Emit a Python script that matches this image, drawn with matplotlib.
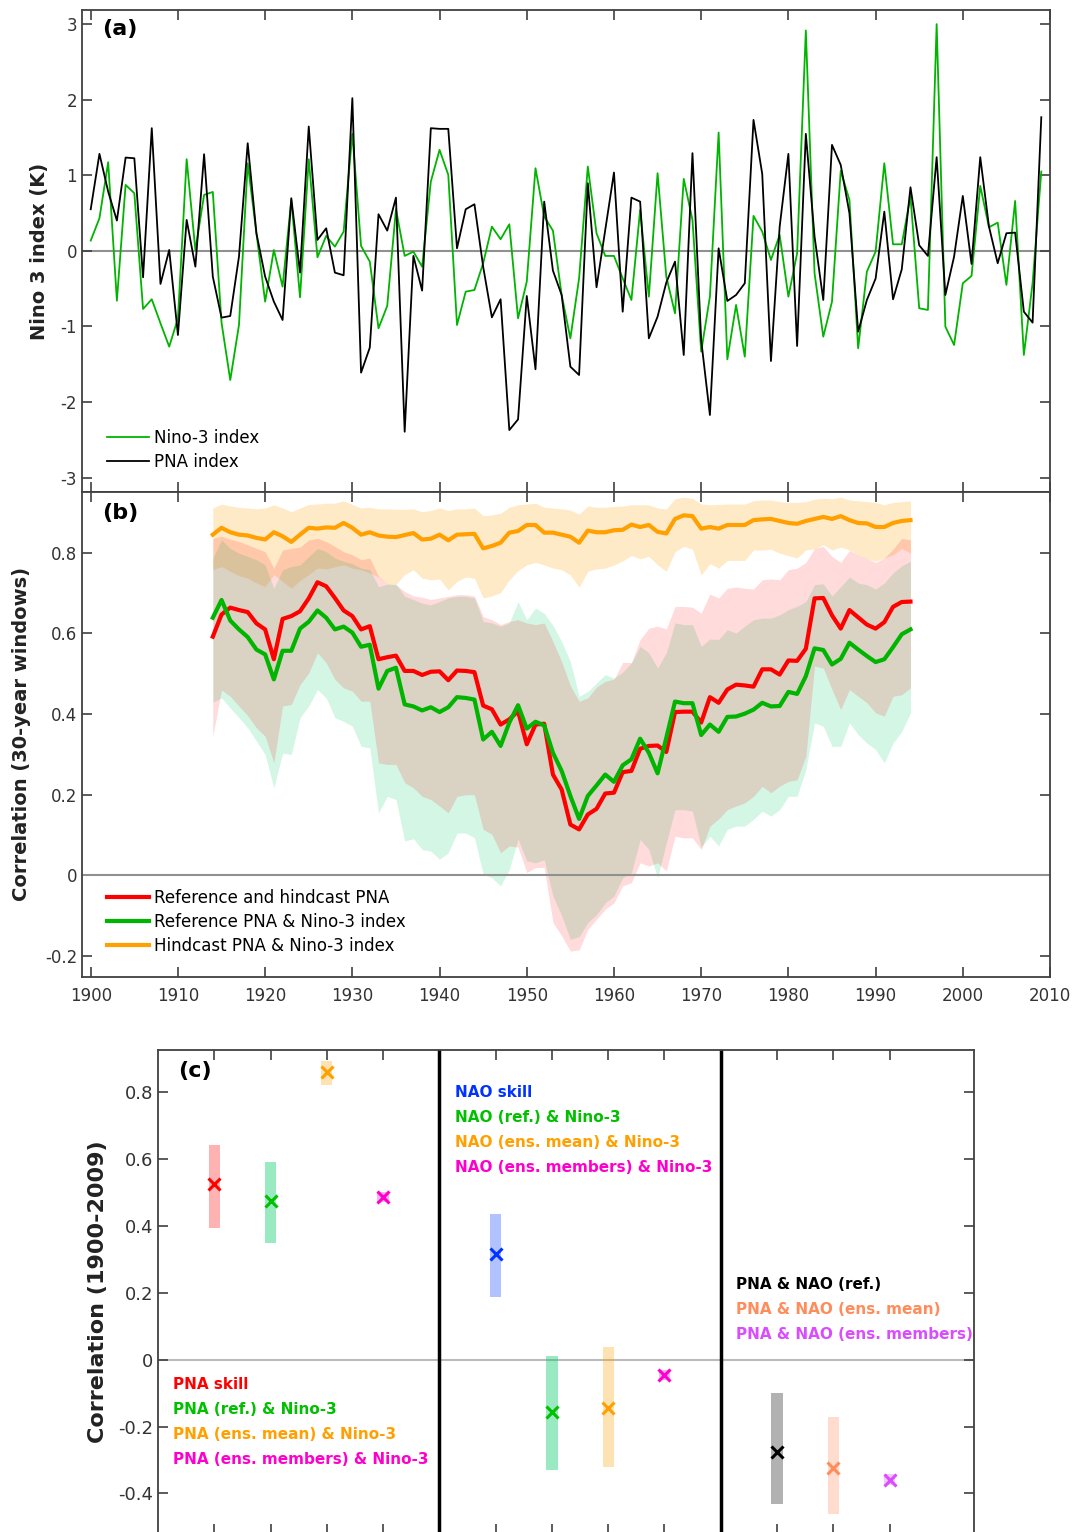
import numpy as np
import matplotlib
matplotlib.use("Agg")
import matplotlib.pyplot as plt
from matplotlib.ticker import FormatStrFormatter

plt.rcParams['font.family'] = ['DejaVu Sans']
plt.rcParams['axes.unicode_minus'] = False

# ---------------- panel (a): yearly indices 1900-2009 ----------------
years_a = np.arange(1900, 2010)
nino3 = [0.137, 0.433, 1.174, -0.658, 0.874, 0.764, -0.768, -0.640, -0.958, -1.267,
         -0.892, 1.214, 0.010, 0.742, 0.781, -0.950, -1.709, -0.980, 1.161, 0.234,
         -0.671, 0.013, -0.472, 0.675, -0.614, 1.214, -0.084, 0.199, 0.057, 0.256,
         1.550, 0.066, -0.141, -1.024, -0.728, 0.552, -0.066, -0.009, -0.208, 0.918,
         1.338, 1.007, -0.980, -0.539, -0.517, -0.163, 0.322, 0.155, 0.353, -0.892,
         -0.406, 1.095, 0.455, 0.269, -0.583, -1.157, -0.362, 1.117, 0.234, -0.066,
         -0.066, -0.362, -0.649, 0.543, -0.605, 1.029, -0.340, -0.826, 0.954, 0.411,
         -1.333, -0.605, 1.567, -1.435, -0.715, -1.400, 0.464, 0.256, -0.119, 0.212,
         -0.605, -0.031, 2.918, -0.296, -1.135, -0.671, 1.060, 0.675, -1.289, -0.274,
         -0.009, 1.161, 0.088, 0.088, 0.720, -0.759, -0.781, 3.002, -1.002, -1.245,
         -0.428, -0.331, 0.861, 0.313, 0.375, -0.450, 0.662, -1.377, -0.428, 1.051]
pna = [0.552, 1.285, 0.786, 0.402, 1.236, 1.227, -0.349, 1.625, -0.437, 0.013,
       -1.113, 0.411, -0.208, 1.280, -0.340, -0.883, -0.861, -0.075, 1.426, 0.234,
       -0.340, -0.671, -0.914, 0.698, -0.287, 1.647, 0.146, 0.300, -0.287, -0.322,
       2.022, -1.611, -1.280, 0.486, 0.269, 0.706, -2.393, -0.066, -0.525, 1.625,
       1.616, 1.616, 0.035, 0.552, 0.618, -0.208, -0.879, -0.640, -2.371, -2.230,
       -0.596, -1.567, 0.653, -0.260, -0.583, -1.532, -1.642, 0.896, -0.481, 0.278,
       1.038, -0.804, 0.706, 0.653, -1.157, -0.870, -0.419, -0.141, -1.377, 1.294,
       -1.179, -2.172, 0.035, -0.662, -0.583, -0.428, 1.735, 1.020, -1.457, 0.322,
       1.285, -1.258, 1.550, 0.190, -0.649, 1.404, 1.139, 0.499, -1.068, -0.649,
       -0.366, 0.521, -0.640, -0.243, 0.843, 0.075, -0.066, 1.241, -0.583, -0.075,
       0.728, -0.172, 1.241, 0.322, -0.163, 0.234, 0.243, -0.804, -0.949, 1.770]

# ---------------- panel (b): 30-year running correlations ----------------
years_b = np.arange(1914, 1995)
skill = [0.592, 0.647, 0.664, 0.658, 0.653, 0.625, 0.610, 0.536, 0.636, 0.643,
         0.655, 0.687, 0.727, 0.717, 0.688, 0.657, 0.643, 0.610, 0.618, 0.536,
         0.541, 0.545, 0.507, 0.507, 0.497, 0.505, 0.506, 0.484, 0.508, 0.507,
         0.504, 0.421, 0.412, 0.374, 0.387, 0.407, 0.325, 0.374, 0.376, 0.250,
         0.213, 0.126, 0.114, 0.151, 0.165, 0.203, 0.205, 0.256, 0.259, 0.314,
         0.321, 0.322, 0.306, 0.405, 0.406, 0.406, 0.379, 0.442, 0.428, 0.461,
         0.473, 0.471, 0.468, 0.511, 0.511, 0.498, 0.533, 0.532, 0.562, 0.687,
         0.688, 0.645, 0.612, 0.658, 0.640, 0.622, 0.612, 0.628, 0.666, 0.678, 0.679]
skill_lo = [0.345, 0.460, 0.444, 0.420, 0.396, 0.366, 0.345, 0.279, 0.420, 0.424,
            0.473, 0.502, 0.552, 0.527, 0.486, 0.465, 0.457, 0.432, 0.432, 0.279,
            0.275, 0.275, 0.230, 0.217, 0.196, 0.188, 0.172, 0.155, 0.196, 0.200,
            0.200, 0.114, 0.102, 0.056, 0.073, 0.070, 0.007, 0.019, 0.020, -0.117,
            -0.150, -0.188, -0.185, -0.134, -0.109, -0.084, -0.068, -0.026, -0.018, 0.031,
            0.023, 0.031, 0.011, 0.097, 0.093, 0.093, 0.064, 0.122, 0.140, 0.163,
            0.172, 0.180, 0.196, 0.221, 0.205, 0.221, 0.233, 0.237, 0.295, 0.519,
            0.514, 0.461, 0.411, 0.461, 0.444, 0.428, 0.403, 0.395, 0.444, 0.448, 0.465]
skill_hi = [0.836, 0.841, 0.834, 0.828, 0.820, 0.811, 0.803, 0.762, 0.807, 0.811,
            0.814, 0.832, 0.836, 0.828, 0.816, 0.803, 0.795, 0.783, 0.787, 0.742,
            0.722, 0.721, 0.704, 0.693, 0.690, 0.684, 0.688, 0.692, 0.696, 0.696,
            0.693, 0.642, 0.634, 0.622, 0.630, 0.634, 0.626, 0.622, 0.626, 0.580,
            0.530, 0.470, 0.432, 0.440, 0.467, 0.481, 0.487, 0.528, 0.528, 0.585,
            0.613, 0.618, 0.611, 0.667, 0.667, 0.665, 0.650, 0.698, 0.688, 0.712,
            0.715, 0.712, 0.710, 0.733, 0.735, 0.733, 0.758, 0.762, 0.776, 0.811,
            0.816, 0.791, 0.776, 0.806, 0.795, 0.787, 0.776, 0.787, 0.809, 0.836, 0.832]
ref = [0.639, 0.683, 0.632, 0.610, 0.591, 0.560, 0.548, 0.486, 0.557, 0.557,
       0.612, 0.629, 0.657, 0.639, 0.610, 0.617, 0.602, 0.567, 0.572, 0.463,
       0.507, 0.515, 0.424, 0.419, 0.409, 0.417, 0.405, 0.417, 0.442, 0.440,
       0.436, 0.337, 0.356, 0.321, 0.379, 0.422, 0.364, 0.381, 0.372, 0.304,
       0.259, 0.197, 0.140, 0.197, 0.223, 0.250, 0.232, 0.273, 0.288, 0.339,
       0.304, 0.253, 0.341, 0.431, 0.427, 0.427, 0.348, 0.374, 0.356, 0.393,
       0.394, 0.401, 0.411, 0.428, 0.419, 0.420, 0.455, 0.450, 0.494, 0.563,
       0.559, 0.523, 0.537, 0.577, 0.560, 0.544, 0.529, 0.536, 0.566, 0.598, 0.610]
ref_lo = [0.430, 0.440, 0.415, 0.391, 0.366, 0.333, 0.300, 0.217, 0.303, 0.300,
          0.391, 0.420, 0.461, 0.440, 0.391, 0.382, 0.370, 0.320, 0.316, 0.155,
          0.196, 0.188, 0.085, 0.091, 0.064, 0.060, 0.040, 0.056, 0.105, 0.105,
          0.093, 0.003, -0.006, -0.026, 0.015, 0.090, 0.036, 0.031, 0.039, -0.051,
          -0.100, -0.159, -0.152, -0.117, -0.097, -0.068, -0.051, -0.006, 0.007, 0.089,
          0.064, -0.006, 0.080, 0.163, 0.163, 0.159, 0.070, 0.097, 0.073, 0.114,
          0.122, 0.122, 0.139, 0.159, 0.147, 0.163, 0.196, 0.196, 0.262, 0.378,
          0.370, 0.320, 0.320, 0.378, 0.349, 0.328, 0.312, 0.279, 0.328, 0.357, 0.403]
ref_hi = [0.787, 0.832, 0.811, 0.799, 0.791, 0.783, 0.770, 0.712, 0.758, 0.766,
          0.770, 0.791, 0.811, 0.803, 0.787, 0.779, 0.773, 0.762, 0.758, 0.716,
          0.722, 0.722, 0.692, 0.684, 0.675, 0.671, 0.679, 0.688, 0.692, 0.692,
          0.688, 0.630, 0.626, 0.618, 0.626, 0.679, 0.634, 0.663, 0.650, 0.620,
          0.580, 0.530, 0.444, 0.456, 0.477, 0.498, 0.489, 0.504, 0.527, 0.568,
          0.552, 0.514, 0.552, 0.626, 0.622, 0.622, 0.568, 0.586, 0.585, 0.609,
          0.601, 0.618, 0.634, 0.638, 0.638, 0.646, 0.659, 0.667, 0.679, 0.721,
          0.723, 0.693, 0.716, 0.740, 0.725, 0.721, 0.710, 0.725, 0.750, 0.768, 0.779]
hind = [0.845, 0.862, 0.851, 0.845, 0.843, 0.837, 0.833, 0.851, 0.841, 0.827,
        0.845, 0.862, 0.860, 0.863, 0.862, 0.874, 0.862, 0.845, 0.851, 0.843,
        0.840, 0.839, 0.844, 0.849, 0.833, 0.835, 0.845, 0.831, 0.845, 0.846,
        0.847, 0.811, 0.817, 0.825, 0.850, 0.854, 0.869, 0.869, 0.850, 0.850,
        0.845, 0.840, 0.825, 0.855, 0.851, 0.851, 0.856, 0.857, 0.870, 0.864,
        0.869, 0.852, 0.848, 0.884, 0.893, 0.891, 0.860, 0.864, 0.860, 0.869,
        0.869, 0.869, 0.881, 0.883, 0.884, 0.879, 0.874, 0.872, 0.879, 0.884,
        0.889, 0.884, 0.891, 0.881, 0.874, 0.873, 0.864, 0.864, 0.874, 0.879, 0.881]
hind_lo = [0.758, 0.766, 0.754, 0.743, 0.737, 0.725, 0.716, 0.746, 0.729, 0.712,
           0.731, 0.746, 0.762, 0.760, 0.765, 0.770, 0.762, 0.758, 0.750, 0.740,
           0.721, 0.722, 0.746, 0.758, 0.737, 0.733, 0.735, 0.708, 0.729, 0.740,
           0.737, 0.688, 0.693, 0.701, 0.733, 0.756, 0.770, 0.776, 0.770, 0.762,
           0.758, 0.745, 0.715, 0.754, 0.760, 0.762, 0.770, 0.780, 0.793, 0.785,
           0.791, 0.770, 0.754, 0.803, 0.816, 0.809, 0.745, 0.773, 0.762, 0.781,
           0.781, 0.781, 0.807, 0.807, 0.809, 0.799, 0.793, 0.787, 0.807, 0.810,
           0.820, 0.807, 0.814, 0.807, 0.795, 0.787, 0.779, 0.787, 0.795, 0.811, 0.799]
hind_hi = [0.911, 0.921, 0.916, 0.913, 0.911, 0.909, 0.911, 0.919, 0.911, 0.902,
           0.911, 0.920, 0.921, 0.923, 0.923, 0.929, 0.920, 0.911, 0.913, 0.909,
           0.909, 0.908, 0.908, 0.909, 0.902, 0.905, 0.911, 0.905, 0.909, 0.909,
           0.911, 0.892, 0.894, 0.898, 0.913, 0.919, 0.921, 0.923, 0.913, 0.911,
           0.909, 0.906, 0.896, 0.916, 0.913, 0.913, 0.915, 0.916, 0.919, 0.919,
           0.919, 0.911, 0.909, 0.934, 0.938, 0.935, 0.921, 0.919, 0.920, 0.921,
           0.921, 0.921, 0.929, 0.931, 0.931, 0.927, 0.925, 0.925, 0.927, 0.933,
           0.935, 0.934, 0.938, 0.931, 0.929, 0.927, 0.925, 0.919, 0.925, 0.927, 0.929]

# ---------------- panel (c): full-period correlations ----------------
c_pos = [1, 2, 3, 4, 6, 7, 8, 9, 11, 12, 13]
c_val = [0.525, 0.475, 0.861, 0.487, 0.315, -0.158, -0.146, -0.045, -0.275, -0.323, -0.359]
c_lo = [0.393, 0.349, 0.822, 0.472, 0.187, -0.329, -0.321, -0.062, -0.431, -0.461, -0.375]
c_hi = [0.641, 0.590, 0.894, 0.502, 0.435, 0.012, 0.039, -0.030, -0.101, -0.170, -0.342]
c_mark = ['#ff0000', '#00c000', '#ffa000', '#ff00cc', '#0033ff', '#00c000', '#ffa000',
          '#ff00cc', '#000000', '#ff8c5a', '#d94dff']
c_bar = ['#ff0000', '#00cc66', '#ffa000', '#ff00cc', '#0033ff', '#00cc66', '#ffa000',
         '#ff00cc', '#000000', '#ff8c5a', '#d94dff']
pna_labels = ['PNA skill', 'PNA (ref.) & Nino-3', 'PNA (ens. mean) & Nino-3',
              'PNA (ens. members) & Nino-3']
nao_labels = ['NAO skill', 'NAO (ref.) & Nino-3', 'NAO (ens. mean) & Nino-3',
              'NAO (ens. members) & Nino-3']
cross_labels = ['PNA & NAO (ref.)', 'PNA & NAO (ens. mean)', 'PNA & NAO (ens. members)']
pna_colors = ['#ff0000', '#00c000', '#ffa000', '#ff00cc']
nao_colors = ['#0033ff', '#00c000', '#ffa000', '#ff00cc']
cross_colors = ['#000000', '#ff8c5a', '#d94dff']

SP = '#404040'
TK = '#333333'


def style(ax, labelbottom=True):
    for s in ax.spines.values():
        s.set_color(SP)
        s.set_linewidth(1.3)
    ax.tick_params(direction='in', length=7, width=1.2, color=SP, labelcolor=TK,
                   labelsize=12, top=True, right=True, labelbottom=labelbottom)


fig = plt.figure(figsize=(10.89, 15.32), dpi=100)

# (a)
ax1 = fig.add_axes([0.0753, 0.6789, 0.8889, 0.3146])
ax1.axhline(0, color='#909090', lw=1.5, zorder=1)
ax1.plot(years_a, nino3, color='#00b400', lw=1.3, label='Nino-3 index', zorder=2)
ax1.plot(years_a, pna, color='black', lw=1.3, label='PNA index', zorder=3)
ax1.set_xlim(1899, 2010)
ax1.set_ylim(-3.19, 3.19)
ax1.set_xticks(np.arange(1900, 2011, 10))
ax1.set_yticks(np.arange(-3, 4, 1))
style(ax1, labelbottom=False)
ax1.set_ylabel('Nino 3 index (K)', fontsize=14, fontweight='bold', color='#222222')
ax1.yaxis.set_label_coords(-0.034, 0.5)
ax1.text(0.021, 0.96, '(a)', transform=ax1.transAxes, fontsize=16, fontweight='bold',
         va='center')
ax1.legend(loc='lower left', bbox_to_anchor=(0.0103, 0.012), frameon=False, fontsize=12,
           handlelength=2.5, handletextpad=0.3, labelspacing=0.37, borderaxespad=0.5)

# (b)
ax2 = fig.add_axes([0.0753, 0.3623, 0.8889, 0.3166])
ax2.fill_between(years_b, hind_lo, hind_hi, color='#ffa000', alpha=0.22, lw=0, zorder=1)
ax2.fill_between(years_b, ref_lo, ref_hi, color='#00cc66', alpha=0.17, lw=0, zorder=1)
ax2.fill_between(years_b, skill_lo, skill_hi, color='#ff0000', alpha=0.14, lw=0, zorder=1)
ax2.axhline(0, color='#909090', lw=1.5, zorder=2)
ax2.plot(years_b, skill, color='#ff0000', lw=3, label='Reference and hindcast PNA', zorder=4)
ax2.plot(years_b, ref, color='#00b400', lw=3, label='Reference PNA & Nino-3 index', zorder=4)
ax2.plot(years_b, hind, color='#ffa000', lw=3, label='Hindcast PNA & Nino-3 index', zorder=4)
ax2.set_xlim(1899, 2010)
ax2.set_ylim(-0.252, 0.951)
ax2.set_xticks(np.arange(1900, 2011, 10))
ax2.set_yticks([-0.2, 0, 0.2, 0.4, 0.6, 0.8])
ax2.yaxis.set_major_formatter(FormatStrFormatter('%g'))
style(ax2)
ax2.tick_params(axis='x', pad=7)
ax2.set_ylabel('Correlation (30-year windows)', fontsize=14, fontweight='bold',
               color='#222222')
ax2.yaxis.set_label_coords(-0.053, 0.5)
ax2.text(0.021, 0.957, '(b)', transform=ax2.transAxes, fontsize=16, fontweight='bold',
         va='center')
ax2.legend(loc='lower left', bbox_to_anchor=(0.0103, 0.014), frameon=False, fontsize=12,
           handlelength=2.5, handletextpad=0.3, labelspacing=0.37, borderaxespad=0.5)

# (c)
ax3 = fig.add_axes([0.1451, -0.001, 0.7493, 0.3156])
ax3.axhline(0, color='#bbbbbb', lw=1.5, zorder=1)
for x in [5, 10]:
    ax3.axvline(x, color='black', lw=2.5, zorder=2)
for x, v, lo, hi, cm, cb in zip(c_pos, c_val, c_lo, c_hi, c_mark, c_bar):
    a = 0.4 if cb == '#00cc66' else 0.3
    ax3.bar(x, hi - lo, bottom=lo, width=0.2, color=cb, alpha=a, lw=0, zorder=2)
    ax3.plot(x, v, 'x', color=cm, ms=9, mew=2.2, zorder=3)
ax3.set_xlim(0, 14.5)
ax3.set_ylim(-0.52, 0.926)
ax3.set_xticks([p for p in c_pos])
ax3.set_yticks([-0.4, -0.2, 0, 0.2, 0.4, 0.6, 0.8])
ax3.yaxis.set_major_formatter(FormatStrFormatter('%g'))
style(ax3, labelbottom=False)
ax3.tick_params(labelsize=13)
ax3.set_ylabel('Correlation (1900-2009)', fontsize=16, fontweight='bold', color='#222222')
ax3.yaxis.set_label_coords(-0.061, 0.5)
ax3.text(0.35, 0.864, '(c)', fontsize=16, fontweight='bold', va='center')
for i, (t, c) in enumerate(zip(pna_labels, pna_colors)):
    ax3.text(0.27, -0.075 - 0.075 * i, t, color=c, fontsize=11, fontweight='bold',
             va='center')
for i, (t, c) in enumerate(zip(nao_labels, nao_colors)):
    ax3.text(5.27, 0.80 - 0.075 * i, t, color=c, fontsize=11, fontweight='bold',
             va='center')
for i, (t, c) in enumerate(zip(cross_labels, cross_colors)):
    ax3.text(10.27, 0.225 - 0.075 * i, t, color=c, fontsize=11, fontweight='bold',
             va='center')

fig.savefig('out.png', dpi=100)
